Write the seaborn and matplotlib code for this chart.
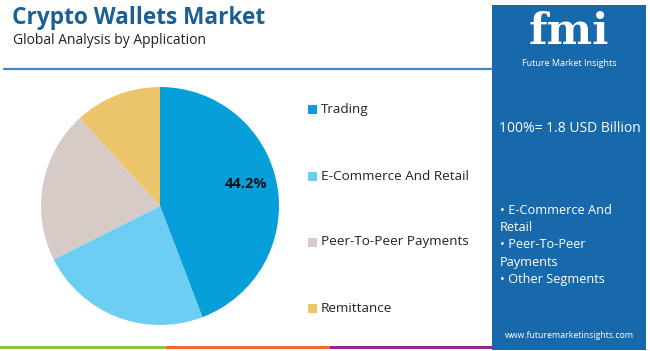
import matplotlib
matplotlib.use("Agg")
import matplotlib.pyplot as plt
import seaborn as sns
from matplotlib.patches import Rectangle

sns.set_theme(style="white")
plt.rcParams['font.family'] = ['Open Sans', 'DejaVu Sans']

categories = ["Trading", "E-Commerce And Retail", "Peer-To-Peer Payments", "Remittance"]
shares = [44.2, 23.4, 20.6, 11.8]
colors = ["#079fd9", "#6ecdf2", "#d6cbc6", "#ebc46c"]
title = "Crypto Wallets Market"
subtitle = "Global Analysis by Application"
total_label = "100%= 1.8 USD Billion"
bullets = ["• E-Commerce And", "Retail", "• Peer-To-Peer", "Payments", "• Other Segments"]

W, H = 650, 351
fig = plt.figure(figsize=(W / 100, H / 100), dpi=100)
fig.patch.set_facecolor("white")

def fx(x):
    return x / W

def fy(y):
    return 1 - y / H

# Title
fig.text(fx(12), fy(18), title, fontsize=16.3, fontweight="bold", color="#1b5f93", va="center", ha="left")
fig.text(fx(13), fy(40), subtitle, fontsize=10, color="#222222", va="center", ha="left")

# Separator line
fig.add_artist(plt.Line2D([fx(4), fx(492)], [fy(69), fy(69)], color="#3f88c5", lw=1.6))

# Bottom strips
for x0, x1, c in [(0, 166, "#8cc63f"), (166, 330, "#f06a35"), (330, 493, "#93278f")]:
    fig.add_artist(Rectangle((fx(x0), fy(349)), fx(x1 - x0), 3 / H, color=c, lw=0))

# Right panel
fig.add_artist(Rectangle((fx(492), fy(350)), fx(154), 345 / H, color="#1769ac", lw=0))
fig.text(fx(569), fy(32), "fmi", fontsize=31, fontweight="bold", color="white",
         ha="center", va="center", family=["DejaVu Serif"])
fig.text(fx(569), fy(63), "Future Market Insights", fontsize=6.5, color="white", ha="center", va="center")
fig.text(fx(570), fy(128), total_label, fontsize=10, color="white", ha="center", va="center")
for i, line in enumerate(bullets):
    fig.text(fx(500), fy(210 + i * 17.5), line, fontsize=9.2, color="white", ha="left", va="center")
fig.text(fx(569), fy(335), "www.futuremarketinsights.com", fontsize=6.3, color="white", ha="center", va="center")

# Pie
cx, cy, r = 160, 206, 119
ax = fig.add_axes([fx(cx - r), fy(cy + r), fx(2 * r), 2 * r / H])
ax.pie(shares, colors=colors, startangle=90, counterclock=False, radius=1,
       wedgeprops=dict(linewidth=0))
ax.set_xlim(-1, 1)
ax.set_ylim(-1, 1)
ax.set_aspect("equal")
ax.axis("off")
ax.text(0.72, 0.185, f"{shares[0]}%", fontsize=10.5, fontweight="bold", color="#111111",
        ha="center", va="center")

# Legend
leg_y = [109, 176, 242, 308]
for name, c, y in zip(categories, colors, leg_y):
    fig.add_artist(Rectangle((fx(308), fy(y + 4.5)), fx(9), 9 / H, color=c, lw=0))
    fig.text(fx(321), fy(y), name, fontsize=9.7, color="#222222", ha="left", va="center")

fig.savefig("out.png", dpi=100)
